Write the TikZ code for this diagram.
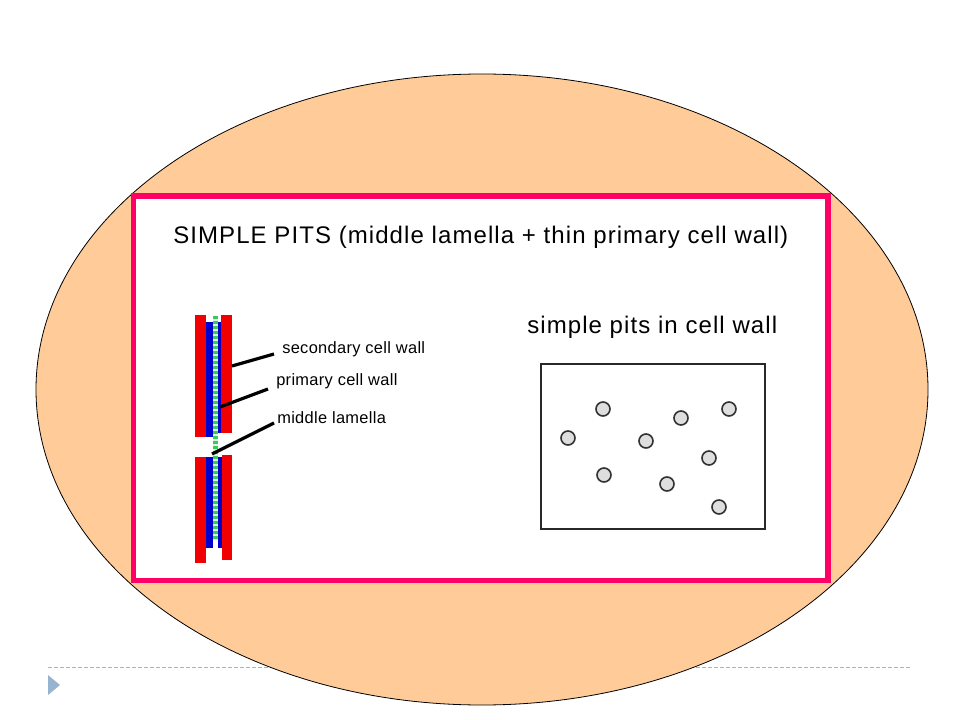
\documentclass[tikz,border=0pt]{standalone}
\usepackage{fontspec}
\setmainfont{Liberation Sans}
\newfontfamily\headfont[LetterSpace=4.5]{Liberation Sans}
\newfontfamily\labelfont[LetterSpace=2]{Liberation Sans}
\tikzset{
  head/.style={anchor=base west,inner sep=0pt,font=\headfont\fontsize{18}{21}\selectfont},
  walllabel/.style={anchor=base west,inner sep=0pt,font=\labelfont\fontsize{12.3}{14}\selectfont},
  leader/.style={line width=2.4pt},
  pit/.style={circle,draw={rgb, 255:red, 50; green, 50; blue, 50},fill={rgb, 255:red, 222; green, 222; blue, 222},line width=1.2pt,minimum size=10.5pt,inner sep=0pt},
}
\begin{document}
\begin{tikzpicture}[x=0.75pt,y=0.75pt,yscale=-1,xscale=1]
    \useasboundingbox (0,0) rectangle (960,720);

    %Straight Lines: footer rule
    \draw [color={rgb, 255:red, 160; green, 180; blue, 200 }, line width=0.75pt, dash pattern=on 3pt off 1.5pt] (48,667) -- (912,667);
    %Shape: Triangle footer bullet
    \fill [color={rgb, 255:red, 151; green, 179; blue, 207 }] (48,675) -- (60,685) -- (48,695) -- cycle;

    %Shape: Ellipse
    \draw [line width=0.6pt, fill={rgb, 255:red, 255; green, 204; blue, 153 }] (482,389.5) ellipse (446 and 315.5);
    %Shape: Rectangle frame
    \draw [color={rgb, 255:red, 255; green, 0; blue, 102 }, line width=4.1pt, fill=white] (133.5,196) rectangle (828,580.5);

    %Shape: cell wall, upper part
    \fill [color={rgb, 255:red, 240; green, 0; blue, 0 }] (195,315) rectangle (206,437);
    \fill [color={rgb, 255:red, 240; green, 0; blue, 0 }] (221,315) rectangle (232,433);
    \fill [color={rgb, 255:red, 0; green, 0; blue, 204 }] (206,322) rectangle (212.5,437);
    \fill [color={rgb, 255:red, 0; green, 0; blue, 204 }] (218,322) rectangle (221,433);
    %Shape: cell wall, lower part
    \fill [color={rgb, 255:red, 240; green, 0; blue, 0 }] (195,457) rectangle (206,563);
    \fill [color={rgb, 255:red, 240; green, 0; blue, 0 }] (222,455) rectangle (232,560);
    \fill [color={rgb, 255:red, 0; green, 0; blue, 204 }] (206,457) rectangle (212.5,548);
    \fill [color={rgb, 255:red, 0; green, 0; blue, 204 }] (218,457) rectangle (222,548);
    %Shape: middle lamella
    \fill [color={rgb, 255:red, 215; green, 245; blue, 220 }] (212.5,316) rectangle (218,540);
    \draw [color={rgb, 255:red, 60; green, 200; blue, 90 }, line width=4.1pt, dash pattern=on 2.25pt off 1.5pt] (215.25,316) -- (215.25,540);

    % Text Node
    \node [head] (title) at (173,244) {SIMPLE PITS (middle lamella + thin primary cell wall)};
    % Text Node
    \node [head] (pitstitle) at (527,333) {simple pits in cell wall};
    % Text Node
    \node [walllabel] (seclabel) at (282,353) {secondary cell wall};
    % Text Node
    \node [walllabel] (primlabel) at (276,385) {primary cell wall};
    % Text Node
    \node [walllabel] (midlabel) at (277,423) {middle lamella};

    %Straight Lines: leaders
    \coordinate (secwall) at (232,366);
    \coordinate (secend) at (274,354);
    \coordinate (primwall) at (220,407);
    \coordinate (primend) at (268,389);
    \coordinate (midwall) at (212,454);
    \coordinate (midend) at (274,423);
    \draw [leader] (secwall) -- (secend);
    \draw [leader] (primwall) -- (primend);
    \draw [leader] (midwall) -- (midend);

    %Shape: Rectangle pits field
    \draw [color={rgb, 255:red, 40; green, 40; blue, 40 }, line width=1.2pt] (541,364) rectangle (765,529);
    \foreach \px/\py [count=\i] in {603/409, 681/418, 729/409, 568/438, 646/441, 709/458, 604/475, 667/484, 719/507}
      \node [pit] (pit\i) at (\px,\py) {};

\end{tikzpicture}
\end{document}
